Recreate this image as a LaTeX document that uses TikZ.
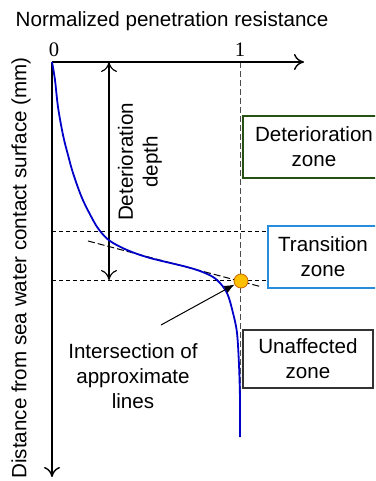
\documentclass[tikz,border=0pt]{standalone}
\usepackage{fontspec}
\setmainfont{Liberation Sans}
\newfontfamily\numfont{Liberation Serif}
\usetikzlibrary{arrows.meta}
\definecolor{detgreen}{RGB}{38,80,20}
\definecolor{transblue}{RGB}{40,140,220}
\definecolor{curveblue}{RGB}{0,0,200}
\definecolor{dotorange}{RGB}{255,192,0}

\begin{document}
\begin{tikzpicture}[x=0.5pt, y=-0.5pt,
	every node/.style={font=\fontsize{10.3}{12.4}\selectfont},
	axis/.style={line width=0.7pt, -{To[length=5pt,width=8pt]}},
	zonebox/.style={draw, line width=0.6pt, align=center, inner sep=0pt},
	guide/.style={line width=0.5pt, dash pattern=on 2pt off 1.5pt},
	tangent/.style={line width=0.5pt, dash pattern=on 3.5pt off 1.5pt},
	unity/.style={line width=0.5pt, black!70, dash pattern=on 3pt off 1.5pt}]
			%%%%% START %%%%%
			\useasboundingbox (0,0) rectangle (375,481);
			\clip (0,0) rectangle (375,481);
			
			\coordinate (O) at (52,62);
			\coordinate (xend) at (304,62);
			\coordinate (yend) at (52,477);
			
			\node (xlabel) at (172,21) {Normalized penetration resistance};
			\node[rotate=90] (ylabel) at (21,268) {Distance from sea water contact surface (mm)};
			\node (zero) at (54,50) {\numfont 0};
			\node (one) at (240,50) {\numfont 1};
			
			% zones (sizes in pt, half the pixel size)
			\node[zonebox, draw=detgreen, minimum width=71pt, minimum height=31pt] (detzone) at (314,147) {Deterioration\\zone};
			\node[zonebox, draw=transblue, minimum width=55pt, minimum height=31pt] (transzone) at (323,257) {Transition\\zone};
			\node[zonebox, draw=black!80, minimum width=65pt, minimum height=29pt] (unzone) at (308,359) {Unaffected\\zone};
			
			% guide lines
			\coordinate (onetop) at (240,62);
			\coordinate (onebot) at (240,440);
			\draw[unity] (onetop) -- (onebot);
			
			\coordinate (uppl) at (52,231);
			\coordinate (lowl) at (52,280);
			\draw[guide] (uppl) -- (uppl -| transzone.west);
			\draw[guide] (lowl) -- (lowl -| transzone.west);
			
			\coordinate (tanA) at (88,241);
			\coordinate (tanB) at (262,287);
			\draw[tangent] (tanA) -- (tanB);
			
			% axes
			\draw[axis] (O) -- (xend);
			\draw[axis] (O) -- (yend);
			
			% deterioration depth
			\coordinate (ddtop) at (109,62);
			\coordinate (ddbot) at (109,280);
			\draw[line width=0.6pt, {To[length=5pt,width=8pt]}-{To[length=5pt,width=8pt]}] (ddtop) -- (ddbot);
			\node[rotate=90, align=center] (ddtext) at (140,162) {Deterioration\\depth};
			
			% resistance profile
			\draw[curveblue, line width=0.9pt] plot[smooth, tension=0.55] coordinates {
				(52,62) (55,80) (58,107) (63,135) (68,155) (73,173) (82,198) (93,220)
				(100,231) (110,241) (127,250) (150,258) (187,267) (205,273) (217,280)
				(227,293) (233,313) (237,333) (239,365) (240,400) (240,437)};
			
			% intersection
			\node[circle, fill=dotorange, draw=orange!80!black, line width=0.4pt, minimum size=7pt, inner sep=0pt] (isect) at (241,281) {};
			\coordinate (ptail) at (161,325);
			\draw[line width=0.5pt, -{Latex[length=5pt,width=4pt]}] (ptail) -- (isect);
			\node[align=center] (isectlabel) at (133,376) {Intersection of\\approximate\\lines};
			%%%%% END %%%%%
\end{tikzpicture}
\end{document}
